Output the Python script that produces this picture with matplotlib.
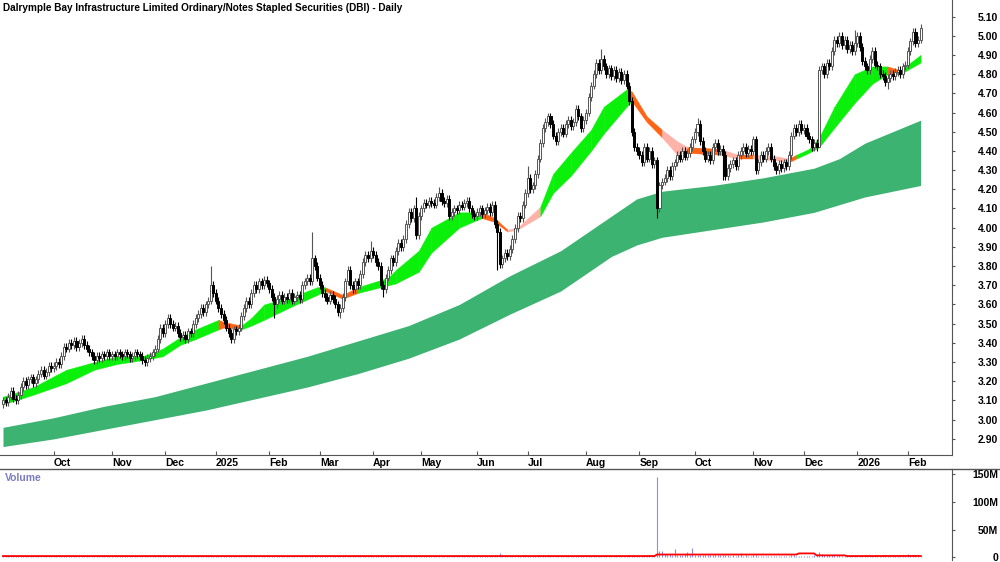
import numpy as np
import pandas as pd
import matplotlib
matplotlib.use("Agg")
import matplotlib.pyplot as plt
from matplotlib.lines import Line2D

plt.rcParams['font.family'] = ['Liberation Sans', 'DejaVu Sans']

title = "Dalrymple Bay Infrastructure Limited Ordinary/Notes Stapled Securities (DBI) - Daily"
start_date = "2024-09-03"
end_date = "2026-02-09"
holidays = ["2024-12-25", "2024-12-26", "2025-01-01", "2025-01-27", "2025-04-18",
            "2025-04-21", "2025-04-25", "2025-06-09", "2025-12-25", "2025-12-26",
            "2026-01-01", "2026-01-26"]

# daily closes, month by month
close_sep24 = [3.10, 3.09, 3.12, 3.15, 3.11, 3.10, 3.13, 3.17, 3.20, 3.18, 3.21, 3.22, 3.19, 3.21, 3.24, 3.26, 3.23, 3.25, 3.28, 3.27]
close_oct24 = [3.28, 3.30, 3.29, 3.33, 3.38, 3.37, 3.40, 3.39, 3.41, 3.38, 3.40, 3.42, 3.39, 3.37, 3.35, 3.33, 3.31, 3.33, 3.32, 3.34, 3.33, 3.35, 3.33]
close_nov24 = [3.34, 3.33, 3.35, 3.34, 3.33, 3.35, 3.34, 3.32, 3.33, 3.35, 3.34, 3.33, 3.31, 3.30, 3.32, 3.33, 3.35, 3.37, 3.42, 3.48, 3.45]
close_dec24 = [3.50, 3.53, 3.50, 3.48, 3.49, 3.45, 3.43, 3.44, 3.42, 3.46, 3.45, 3.50, 3.53, 3.55, 3.58, 3.56, 3.60, 3.62, 3.70, 3.66]
close_jan25 = [3.62, 3.58, 3.55, 3.52, 3.48, 3.45, 3.42, 3.47, 3.46, 3.48, 3.54, 3.58, 3.62, 3.60, 3.66, 3.70, 3.68, 3.72, 3.70, 3.73, 3.71]
close_feb25 = [3.68, 3.64, 3.60, 3.63, 3.65, 3.62, 3.64, 3.63, 3.66, 3.62, 3.64, 3.65, 3.63, 3.70, 3.72, 3.74, 3.72, 3.84, 3.80, 3.74]
close_mar25 = [3.70, 3.66, 3.64, 3.62, 3.65, 3.63, 3.60, 3.56, 3.58, 3.64, 3.72, 3.78, 3.70, 3.68, 3.72, 3.70, 3.76, 3.82, 3.86, 3.84, 3.88]
close_apr25 = [3.86, 3.82, 3.80, 3.70, 3.68, 3.74, 3.78, 3.84, 3.82, 3.88, 3.92, 3.90, 3.94, 4.02, 4.08, 4.05, 4.10, 3.96, 4.06]
close_may25 = [4.10, 4.13, 4.12, 4.14, 4.13, 4.12, 4.16, 4.18, 4.14, 4.13, 4.15, 4.06, 4.08, 4.10, 4.09, 4.12, 4.11, 4.13, 4.14, 4.10, 4.07, 4.06]
close_jun25 = [4.08, 4.10, 4.07, 4.09, 4.11, 4.08, 4.12, 4.02, 3.98, 3.81, 3.84, 3.87, 3.85, 3.89, 3.94, 4.00, 4.06, 4.05, 4.12, 4.18]
close_jul25 = [4.26, 4.20, 4.22, 4.28, 4.36, 4.44, 4.52, 4.55, 4.58, 4.54, 4.48, 4.45, 4.50, 4.52, 4.49, 4.54, 4.56, 4.53, 4.55, 4.62, 4.58, 4.52, 4.56]
close_aug25 = [4.60, 4.68, 4.74, 4.80, 4.86, 4.82, 4.88, 4.84, 4.80, 4.83, 4.79, 4.82, 4.78, 4.81, 4.77, 4.80, 4.74, 4.66, 4.50, 4.42, 4.40]
close_sep25 = [4.38, 4.34, 4.42, 4.36, 4.40, 4.33, 4.35, 4.10, 4.22, 4.24, 4.26, 4.30, 4.27, 4.32, 4.34, 4.38, 4.36, 4.40, 4.37, 4.39, 4.42, 4.46]
close_oct25 = [4.50, 4.54, 4.45, 4.40, 4.36, 4.38, 4.35, 4.42, 4.44, 4.40, 4.41, 4.38, 4.27, 4.31, 4.33, 4.35, 4.32, 4.38, 4.40, 4.42, 4.39, 4.41, 4.40]
close_nov25 = [4.46, 4.30, 4.34, 4.38, 4.36, 4.40, 4.42, 4.36, 4.32, 4.30, 4.33, 4.31, 4.34, 4.32, 4.38, 4.48, 4.52, 4.50, 4.54, 4.51]
close_dec25 = [4.52, 4.48, 4.46, 4.42, 4.44, 4.42, 4.82, 4.84, 4.80, 4.86, 4.84, 4.92, 4.98, 4.96, 5.00, 4.95, 4.98, 4.93, 4.95, 4.92, 4.96]
close_jan26 = [5.00, 4.94, 4.87, 4.84, 4.82, 4.88, 4.92, 4.85, 4.84, 4.80, 4.79, 4.76, 4.78, 4.80, 4.79, 4.81, 4.82, 4.80, 4.84, 4.85]
close_feb26 = [4.92, 4.97, 5.02, 4.96, 4.98, 5.04]

# long wicks seen on the chart (day index, price)
high_idx = [82, 122, 145, 163, 172, 207, 236, 274, 336]
high_val = [3.80, 3.98, 3.93, 4.16, 4.21, 4.32, 4.93, 4.57, 5.03]
low_idx = [107, 133, 150, 195, 258, 284, 322, 349]
low_val = [3.53, 3.53, 3.64, 3.78, 4.05, 4.25, 4.44, 4.72]

# short term band (day index, top, bottom, colour of following stretch)
st_idx = [0, 12, 25, 36, 45, 55, 63, 70, 76, 85, 87, 94, 98, 103, 114, 124, 127, 134, 140, 152,
          155, 164, 169, 180, 187, 189, 194, 199, 203, 212, 217, 224, 232, 237, 246, 248, 254, 260,
          266, 270, 283, 290, 296, 306, 310, 313, 318, 322, 328, 336, 343, 349, 354, 362]
st_top = [3.12, 3.17, 3.26, 3.30, 3.33, 3.33, 3.37, 3.43, 3.47, 3.52, 3.51, 3.49, 3.53, 3.60, 3.64, 3.69, 3.69, 3.65, 3.69, 3.74,
          3.78, 3.88, 4.00, 4.08, 4.08, 4.08, 4.05, 3.99, 4.00, 4.11, 4.28, 4.39, 4.51, 4.63, 4.72, 4.71, 4.58, 4.51,
          4.45, 4.42, 4.41, 4.38, 4.38, 4.37, 4.36, 4.38, 4.41, 4.47, 4.63, 4.80, 4.84, 4.84, 4.82, 4.90]
st_bot = [3.08, 3.13, 3.19, 3.26, 3.29, 3.31, 3.33, 3.39, 3.42, 3.47, 3.48, 3.47, 3.49, 3.52, 3.59, 3.65, 3.67, 3.63, 3.66, 3.70,
          3.71, 3.77, 3.87, 4.00, 4.04, 4.05, 4.03, 3.98, 3.99, 4.06, 4.18, 4.27, 4.40, 4.49, 4.63, 4.66, 4.55, 4.47,
          4.38, 4.39, 4.38, 4.36, 4.36, 4.35, 4.34, 4.36, 4.39, 4.42, 4.52, 4.65, 4.75, 4.80, 4.80, 4.86]
st_state = "gggggggggoogggggoogggggggooppggggggooppopoppoggggggoggg"

# long term band (day index, top, bottom)
lt_idx = [0, 20, 40, 60, 80, 100, 120, 140, 160, 180, 200, 220, 240, 250, 260, 280, 300, 320, 330, 340, 362]
lt_top = [2.96, 3.01, 3.07, 3.12, 3.19, 3.26, 3.33, 3.41, 3.49, 3.60, 3.75, 3.88, 4.06, 4.15, 4.19, 4.22, 4.26, 4.31, 4.36, 4.44, 4.56]
lt_bot = [2.86, 2.90, 2.95, 3.00, 3.05, 3.11, 3.17, 3.24, 3.32, 3.42, 3.55, 3.67, 3.85, 3.91, 3.95, 3.99, 4.03, 4.08, 4.12, 4.16, 4.22]

# volume in millions
vol_sep24 = [2.1, 1.8, 2.4, 3.0, 1.6, 1.9, 2.2, 2.8, 2.5, 1.7, 2.0, 2.3, 1.9, 2.6, 3.1, 2.2, 1.8, 2.4, 2.9, 2.0]
vol_oct24 = [2.3, 2.0, 1.7, 2.6, 3.2, 2.1, 2.4, 1.9, 2.2, 1.8, 2.7, 2.5, 2.0, 1.6, 2.3, 2.1, 1.9, 2.4, 2.2, 1.7, 2.0, 2.6, 1.8]
vol_nov24 = [1.9, 2.2, 1.7, 2.0, 2.4, 1.8, 2.1, 1.6, 2.3, 1.9, 2.0, 2.5, 1.7, 2.2, 1.9, 2.1, 2.6, 3.0, 3.4, 4.1, 2.8]
vol_dec24 = [3.0, 2.6, 2.2, 2.0, 2.4, 1.9, 2.1, 2.3, 1.8, 2.5, 2.2, 2.7, 3.1, 2.4, 2.0, 2.6, 2.2, 1.5, 3.6, 2.1]
vol_jan25 = [2.4, 2.2, 2.6, 2.0, 2.3, 2.8, 3.0, 2.1, 1.9, 2.2, 2.5, 2.3, 2.0, 2.4, 2.7, 2.9, 2.1, 2.3, 1.8, 2.2, 2.5]
vol_feb25 = [2.6, 2.3, 2.9, 2.1, 2.0, 2.4, 1.9, 2.2, 2.5, 2.0, 2.3, 2.1, 2.7, 2.4, 2.2, 2.6, 2.0, 3.8, 3.2, 3.0]
vol_mar25 = [2.5, 2.2, 2.4, 2.1, 2.6, 2.3, 2.8, 3.1, 2.4, 2.7, 3.3, 2.9, 2.2, 2.0, 2.4, 2.1, 2.5, 2.8, 2.6, 2.3, 3.4]
vol_apr25 = [2.2, 2.6, 3.2, 4.0, 3.5, 2.8, 2.4, 2.6, 2.1, 2.5, 2.3, 2.0, 2.4, 2.9, 3.1, 2.6, 2.8, 2.7, 2.3]
vol_may25 = [2.5, 2.2, 2.4, 2.7, 3.0, 2.3, 2.1, 2.5, 2.2, 2.0, 2.6, 3.2, 2.4, 2.1, 2.3, 2.0, 2.2, 2.5, 2.4, 2.1, 2.6, 2.3]
vol_jun25 = [2.2, 2.4, 2.1, 2.3, 2.6, 2.0, 2.5, 3.4, 3.8, 8.5, 4.2, 3.1, 2.8, 2.6, 3.0, 2.7, 3.3, 2.5, 3.5, 3.9]
vol_jul25 = [3.2, 2.8, 2.5, 3.0, 3.4, 3.1, 3.6, 2.9, 3.3, 2.7, 2.6, 2.4, 2.8, 2.5, 2.2, 2.6, 2.9, 2.3, 2.5, 3.0, 2.7, 2.4, 2.6]
vol_aug25 = [2.8, 3.1, 2.9, 3.3, 3.0, 2.6, 2.8, 2.5, 2.4, 2.7, 2.3, 2.5, 2.2, 2.6, 2.4, 2.9, 3.2, 3.8, 4.5, 3.6, 3.2]
vol_sep25 = [3.0, 2.8, 3.3, 2.9, 3.4, 3.1, 3.6, 145.0, 12.0, 11.5, 6.0, 4.8, 5.2, 4.5, 15.0, 5.0, 4.6, 4.2, 5.5, 10.0, 4.8, 17.0]
vol_oct25 = [5.0, 4.6, 4.2, 3.8, 4.0, 3.6, 3.9, 3.4, 3.7, 3.5, 3.3, 3.8, 4.4, 3.6, 3.2, 3.5, 3.0, 3.4, 7.0, 3.1, 3.3, 2.9, 3.2]
vol_nov25 = [4.2, 3.5, 3.0, 3.2, 2.8, 3.1, 2.9, 2.7, 3.0, 2.6, 2.8, 2.5, 2.9, 2.7, 3.1, 3.8, 3.4, 3.0, 3.2, 2.9]
vol_dec25 = [3.0, 2.8, 3.1, 2.7, 3.3, 3.6, 9.0, 5.5, 4.2, 3.8, 4.0, 3.6, 3.4, 3.1, 3.3, 2.9, 3.0, 2.6, 2.2, 1.8, 2.4]
vol_jan26 = [2.6, 3.0, 3.2, 2.8, 2.7, 3.0, 2.9, 2.6, 2.8, 3.1, 2.9, 3.3, 2.7, 2.5, 2.8, 2.6, 2.9, 3.0, 2.8, 3.2]
vol_feb26 = [5.5, 5.0, 4.6, 4.8, 4.2, 3.9]

# volume average line (day index, millions)
vma_idx = [0, 257, 258, 313, 314, 320, 321, 332, 333, 362]
vma_val = [2.2, 2.2, 5.0, 5.0, 7.0, 7.0, 3.5, 3.5, 2.2, 2.4]

closes = np.array(close_sep24 + close_oct24 + close_nov24 + close_dec24 + close_jan25 + close_feb25
                  + close_mar25 + close_apr25 + close_may25 + close_jun25 + close_jul25 + close_aug25
                  + close_sep25 + close_oct25 + close_nov25 + close_dec25 + close_jan26 + close_feb26)
volumes = np.array(vol_sep24 + vol_oct24 + vol_nov24 + vol_dec24 + vol_jan25 + vol_feb25
                   + vol_mar25 + vol_apr25 + vol_may25 + vol_jun25 + vol_jul25 + vol_aug25
                   + vol_sep25 + vol_oct25 + vol_nov25 + vol_dec25 + vol_jan26 + vol_feb26) * 1e6

dates = pd.date_range(start_date, end_date, freq=pd.offsets.CustomBusinessDay(holidays=holidays))
n = len(closes)
assert len(dates) == n == len(volumes), (len(dates), n, len(volumes))
x = np.arange(n)

opens = np.r_[closes[0] - 0.02, closes[:-1]]
highs = np.maximum(opens, closes) + 0.02
lows = np.minimum(opens, closes) - 0.02
highs[high_idx] = high_val
lows[low_idx] = low_val

W, H = 1000, 562
fig = plt.figure(figsize=(W / 100, H / 100), dpi=100)
ax = fig.add_axes([0, 107 / H, 952 / W, 455 / H])
vax = fig.add_axes([0, 2 / H, 952 / W, 91 / H])

# long term band
ax.fill_between(lt_idx, lt_bot, lt_top, color='#3cb371', lw=0, zorder=1)

# short term band
band_cols = {'g': '#0af00a', 'o': '#ff6414', 'p': '#ffb2a8'}
for i in range(len(st_idx) - 1):
    ax.fill_between(st_idx[i:i + 2], st_bot[i:i + 2], st_top[i:i + 2],
                    color=band_cols[st_state[i]], lw=0.3, zorder=2)

# candles
up = closes >= opens
ax.vlines(x[up], lows[up], highs[up], color='#555555', lw=0.8, zorder=3)
ax.vlines(x[~up], lows[~up], highs[~up], color='black', lw=0.8, zorder=3)
body = np.maximum(np.abs(closes - opens), 0.008)
bot = np.minimum(opens, closes)
ax.bar(x[up], body[up], bottom=bot[up], width=0.8, facecolor='white', edgecolor='#555555', lw=0.7, zorder=4)
ax.bar(x[~up], body[~up], bottom=bot[~up], width=0.8, facecolor='black', edgecolor='black', lw=0.7, zorder=4)

xmin, xmax = -1.18, 374.4
ax.set_xlim(xmin, xmax)
ax.set_ylim(2.816, 5.186)

# month ticks on first trading day of each month
per = pd.Series(dates.to_period('M'))
first = np.flatnonzero((per != per.shift()).values)[1:]
labels = [str(dates[i].year) if dates[i].month == 1 else dates[i].strftime('%b') for i in first]
ax.set_xticks(first)
ax.set_xticklabels(labels, ha='left', fontsize=7.5, fontweight='bold')
ax.tick_params(axis='x', direction='in', length=3, color='#555555', pad=2)

yt = np.round(np.arange(2.9, 5.101, 0.1), 2)
ax.yaxis.tick_right()
ax.set_yticks(yt)
ax.set_yticklabels([f"{v:.2f}" for v in yt], fontsize=7.5, fontweight='bold', ha='right')
ax.tick_params(axis='y', direction='out', length=2.2, pad=31, color='#555555')

for s in ['left', 'top']:
    ax.spines[s].set_visible(False)
ax.spines['bottom'].set_color('#555555')
ax.spines['right'].set_color('#555555')

# volume panel
vax.vlines(x, 0, volumes, color='#8c8ce6', lw=0.8)
vax.plot(vma_idx, np.array(vma_val) * 1e6, color='red', lw=1.3)
vax.set_xlim(xmin, xmax)
vax.set_ylim(-4.9e6, 159.6e6)
vax.set_xticks([])
vax.yaxis.tick_right()
vt = [0, 50e6, 100e6, 150e6]
vax.set_yticks(vt)
vax.set_yticklabels(['0', '50M', '100M', '150M'], fontsize=7.5, fontweight='bold', ha='right')
vax.tick_params(axis='y', direction='out', length=2.2, pad=31, color='#555555')
for s in ['left', 'top', 'bottom']:
    vax.spines[s].set_visible(False)
vax.spines['right'].set_color('#555555')

fig.add_artist(Line2D([0, 1], [1 - 469 / H] * 2, color='#555555', lw=1))
fig.text(3 / W, 1 - 8 / H, title, fontsize=7.2, fontweight='bold', va='center', ha='left')
fig.text(5 / W, 1 - 478 / H, 'Volume', fontsize=7.5, fontweight='bold', color='#7b7bc0', va='center', ha='left')

fig.savefig('out.png', dpi=100)
